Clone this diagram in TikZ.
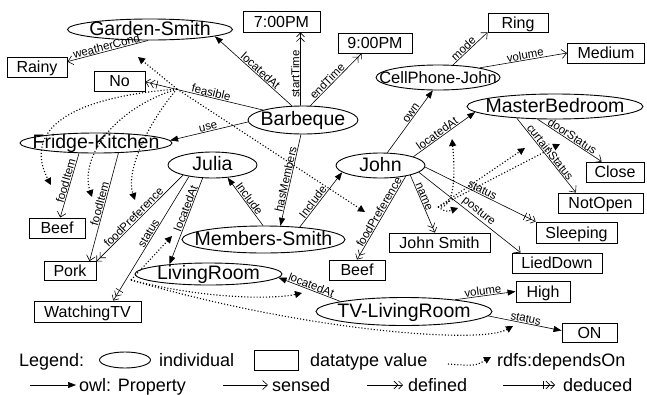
\documentclass[tikz,border=0pt]{standalone}
\usepackage{fontspec}
\setmainfont{Liberation Sans}
\usetikzlibrary{arrows.meta,shapes.geometric}

\begin{document}
\begin{tikzpicture}[x=1pt,y=-1pt,
  indiv/.style={draw,ellipse,line width=0.9pt,inner xsep=-5cm,inner ysep=-5cm,text height=13.5pt,text depth=2.5pt,font=\fontsize{19.5}{19.5}\selectfont},
  dval/.style={draw,rectangle,line width=0.9pt,inner sep=0pt,minimum height=20pt,text height=11.5pt,text depth=0pt,font=\fontsize{16}{16}\selectfont},
  lab/.style={font=\fontsize{11.5}{11.5}\selectfont,sloped,above,inner sep=0.6pt},
  legtext/.style={anchor=west,inner sep=0pt,text height=13pt,text depth=0pt,font=\fontsize{18}{18}\selectfont},
  link/.style={line width=0.6pt},
  owlprop/.style={link,-{Triangle[length=8pt,width=6pt]}},
  sensedarr/.style={link,-{Straight Barb[length=5pt,width=9pt]}},
  definedarr/.style={link,-{Straight Barb[length=4pt,width=8pt]Straight Barb[length=4pt,width=8pt]}},
  deducedarr/.style={link,-{Bar[width=8pt,sep=2pt]Straight Barb[length=4pt,width=8pt]Straight Barb[length=4pt,width=8pt]}},
  depends/.style={line width=1.1pt,dash pattern=on 1.1pt off 2pt,-{Triangle[length=7pt,width=7pt]}}
]
\useasboundingbox (0,0) rectangle (647,394);
\node[indiv,minimum width=165pt,minimum height=21pt] (garden) at (150,29.5) {Garden-Smith};
\node[indiv,minimum width=110pt,minimum height=28pt] (barb) at (303,120) {Barbeque};
\node[indiv,minimum width=152pt,minimum height=20pt] (fridge) at (96,143) {Fridge-Kitchen};
\node[indiv,minimum width=89pt,minimum height=26pt] (julia) at (212.5,165) {Julia};
\node[indiv,minimum width=163pt,minimum height=27pt] (members) at (263.5,239.5) {Members-Smith};
\node[indiv,minimum width=89pt,minimum height=25pt] (john) at (380.5,165.5) {John};
\node[indiv,minimum width=124pt,minimum height=25pt,font=\fontsize{16.5}{16.5}\selectfont] (cell) at (438,77.5) {CellPhone-John};
\node[indiv,minimum width=176pt,minimum height=25pt] (master) at (555,106.5) {MasterBedroom};
\node[indiv,minimum width=147pt,minimum height=22pt] (living) at (208.5,274) {LivingRoom};
\node[indiv,minimum width=176pt,minimum height=28pt] (tv) at (404,311.5) {TV-LivingRoom};

\node[dval,minimum width=77pt,minimum height=21pt] (t7) at (281.5,21.5) {7:00PM};
\node[dval,minimum width=74pt] (t9) at (375,43) {9:00PM};
\node[dval,minimum width=60pt,minimum height=19pt] (ring) at (518,23) {Ring};
\node[dval,minimum width=77pt] (medium) at (606,53) {Medium};
\node[dval,minimum width=60pt] (rainy) at (37,67) {Rainy};
\node[dval,minimum width=51pt] (no) at (119.5,81) {No};
\node[dval,minimum width=56pt] (beefa) at (57,228) {Beef};
\node[dval,minimum width=52pt,minimum height=19pt] (pork) at (70,271) {Pork};
\node[dval,minimum width=107pt,minimum height=21pt] (watching) at (87.5,311.5) {WatchingTV};
\node[dval,minimum width=56pt] (beefb) at (357,270) {Beef};
\node[dval,minimum width=101pt,minimum height=19pt] (jsmith) at (439.5,242.5) {John Smith};
\node[dval,minimum width=58pt] (close) at (615,172) {Close};
\node[dval,minimum width=85pt] (notopen) at (600.5,203) {NotOpen};
\node[dval,minimum width=81pt,minimum height=21pt] (sleeping) at (576.5,232.5) {Sleeping};
\node[dval,minimum width=90pt] (lied) at (557,263) {LiedDown};
\node[dval,minimum width=54pt,minimum height=21pt] (high) at (543,291.5) {High};
\node[dval,minimum width=55pt,minimum height=19pt] (on) at (589.5,332.5) {ON};

\draw[owlprop] (barb.128) -- node[lab,pos=0.45]{locatedAt} (garden.-6);
\draw[sensedarr] (garden.-100) -- node[lab]{weatherCond} (rainy.10);
\draw[deducedarr] (barb.166) -- node[lab,pos=0.45]{feasible} (no.-2);
\draw[owlprop] (barb.182) -- node[lab]{use} (fridge.2);
\draw[definedarr] (barb.100) -- node[lab,pos=0.43]{startTime} (t7.-30);
\draw[definedarr] (barb.63) -- node[lab,pos=0.4]{endTime} (t9.218);
\draw[owlprop] (barb.-98) -- node[lab]{hasMembers} (members.39);
\draw[owlprop] (members.92) -- node[lab]{Include} (julia.-40);
\draw[owlprop] (members.19) -- node[lab,pos=0.4]{Include} (john.190);
\draw[owlprop] (john.62) -- node[lab,pos=0.6]{own} (cell.248);
\draw[sensedarr] (cell.40) -- node[lab,pos=0.4]{mode} (ring.197);
\draw[sensedarr] (cell.13) -- node[lab,pos=0.53]{volume} (medium.west);
\draw[owlprop] (john.15) -- node[lab,pos=0.43]{locatedAt} (master.184);
\draw[sensedarr] (master.216) -- node[lab]{doorStatus} (close.142);
\draw[sensedarr] (master.197) -- node[lab]{curtainStatus} (notopen.157);
\draw[deducedarr] (john.-2) -- node[lab]{status} (sleeping.165);
\draw[sensedarr] (john.-10) -- node[lab,pos=0.55]{posture} (lied.164);
\draw[definedarr] (john.-18) -- node[lab,pos=0.4]{name} (jsmith.115);
\draw[definedarr] (john.-23) -- node[lab,pos=0.46]{foodPreference} (beefb.north);
\draw[sensedarr] (fridge.211) -- node[lab,pos=0.45]{foodItem} (beefa.73);
\draw[sensedarr] (fridge.-24) -- node[lab,pos=0.48]{foodItem} (pork.27);
\draw[definedarr] (julia.199) -- node[lab,pos=0.53]{foodPreference} (pork.20);
\draw[deducedarr] (julia.206) -- node[lab,pos=0.48]{status} (watching.23);
\draw[owlprop] (julia.233) -- node[lab,pos=0.37]{locatedAt} (living.166);
\draw[owlprop] (tv.171) -- node[lab]{locatedAt} (living.-3);
\draw[owlprop] (tv.13) -- node[lab,pos=0.47]{volume} (high.west);
\draw[owlprop] (tv.-3) -- node[lab]{status} (on.176);

\coordinate (fsrc) at (177,89);
\coordinate (fweather) at (138,57);
\coordinate (ffood1) at (51,185);
\coordinate (ffood2) at (92,197);
\coordinate (fpref1) at (135,200);
\coordinate (fpref2) at (365,212);
\draw[depends] (fsrc) -- (fweather);
\draw[depends] (fsrc) .. controls (40,100) and (30,145) .. (ffood1);
\draw[depends] (fsrc) .. controls (110,110) and (80,160) .. (ffood2);
\draw[depends] (fsrc) .. controls (150,120) and (125,170) .. (fpref1);
\draw[depends] (fsrc) -- (fpref2);

\coordinate (ssrc) at (438,207);
\coordinate (sloc) at (452,139);
\coordinate (scurt) at (525,148);
\coordinate (sdoor) at (560,144);
\coordinate (spost) at (458,208);
\draw[depends] (ssrc) .. controls (456,210) and (455,170) .. (sloc);
\draw[depends] (ssrc) .. controls (446,212) .. (spost);
\draw[depends] (ssrc) -- (scurt);
\draw[depends] (ssrc) -- (sdoor);

\coordinate (wsrc) at (131,280);
\coordinate (wjloc) at (172,236);
\coordinate (wtvloc) at (302,293);
\coordinate (wtvstat) at (513,326);
\draw[depends] (wsrc) -- (wjloc);
\draw[depends] (wsrc) .. controls (200,298) and (270,300) .. (wtvloc);
\draw[depends] (wsrc) .. controls (300,330) and (480,345) .. (wtvstat);

\node[legtext] (legend) at (19,360) {Legend:};
\node[indiv,minimum width=51pt,minimum height=16pt] (legind) at (125,360) {};
\node[legtext] (legindtxt) at (159,360) {individual};
\node[dval,minimum width=44pt] (legval) at (276,360) {};
\node[legtext] (legvaltxt) at (310,360) {datatype value};
\coordinate (legdepa) at (448,364);
\coordinate (legdepb) at (491,357);
\draw[depends] (legdepa) .. controls (475,366) .. (legdepb);
\node[legtext] (legdeptxt) at (497,360) {rdfs:dependsOn};

\coordinate (legpropa) at (30,385);
\coordinate (legpropb) at (76,385);
\draw[owlprop] (legpropa) -- (legpropb);
\node[legtext] (legproptxt) at (79,385) {owl: Property};
\coordinate (legsensa) at (223,385);
\coordinate (legsensb) at (268,385);
\draw[sensedarr] (legsensa) -- (legsensb);
\node[legtext] (legsenstxt) at (272,385) {sensed};
\coordinate (legdefa) at (367,385);
\coordinate (legdefb) at (403,385);
\draw[definedarr] (legdefa) -- (legdefb);
\node[legtext] (legdeftxt) at (408,385) {defined};
\coordinate (legdeda) at (503,385);
\coordinate (legdedb) at (555,385);
\draw[deducedarr] (legdeda) -- (legdedb);
\node[legtext] (legdedtxt) at (563,385) {deduced};
\end{tikzpicture}
\end{document}
